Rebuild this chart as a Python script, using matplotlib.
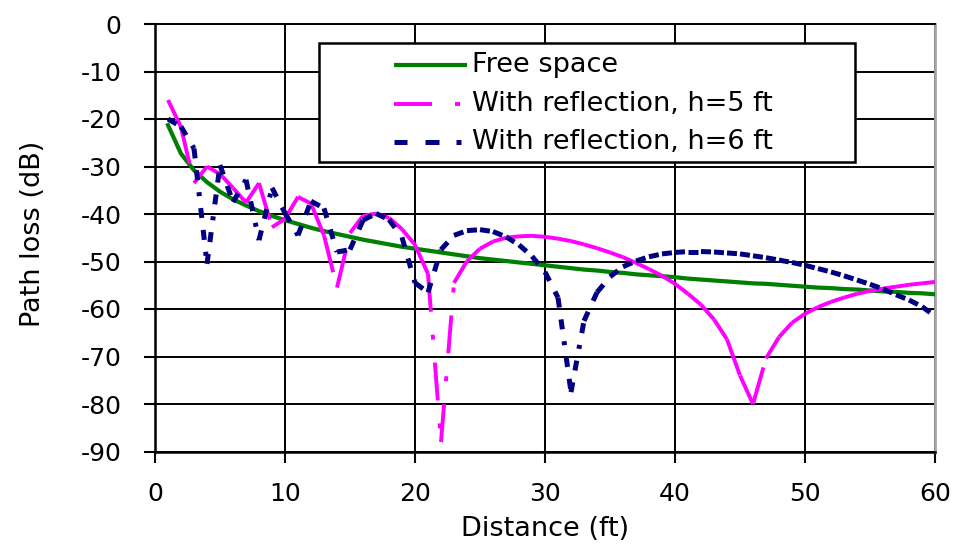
import numpy as np
import matplotlib
matplotlib.use("Agg")
import matplotlib.pyplot as plt
from matplotlib.collections import LineCollection
from matplotlib.lines import Line2D
from matplotlib.patches import Rectangle

plt.rcParams['font.family'] = ['DejaVu Sans']
plt.rcParams['lines.scale_dashes'] = False
plt.rcParams['axes.unicode_minus'] = False

# distance in ft, one sample per foot
distance = list(range(1, 61))

free_space = [-21.3, -27.3, -30.8, -33.3, -35.3, -36.9, -38.2, -39.4, -40.4, -41.3,
              -42.1, -42.9, -43.6, -44.2, -44.8, -45.4, -45.9, -46.4, -46.9, -47.3,
              -47.7, -48.1, -48.5, -48.9, -49.3, -49.6, -49.9, -50.2, -50.5, -50.8,
              -51.1, -51.4, -51.7, -51.9, -52.2, -52.4, -52.7, -52.9, -53.1, -53.3,
              -53.6, -53.8, -54.0, -54.2, -54.4, -54.6, -54.7, -54.9, -55.1, -55.3,
              -55.5, -55.6, -55.8, -55.9, -56.1, -56.3, -56.4, -56.6, -56.7, -56.9]

refl_h5 = [-16.0, -21.7, -33.5, -30.0, -31.6, -34.5, -37.6, -33.5, -42.8, -41.0,
           -36.4, -37.8, -44.5, -55.5, -44.0, -40.4, -39.9, -40.8, -43.2, -46.5,
           -52.6, -88.0, -54.5, -49.9, -47.3, -45.8, -45.0, -44.7, -44.6, -44.8,
           -45.2, -45.7, -46.4, -47.2, -48.1, -49.1, -50.3, -51.6, -53.0, -54.7,
           -56.8, -59.1, -62.2, -66.4, -74.0, -80.0, -70.4, -65.9, -62.9, -61.0,
           -59.6, -58.5, -57.6, -56.8, -56.2, -55.7, -55.3, -54.9, -54.6, -54.3]

refl_h6 = [-20.0, -21.6, -26.2, -50.5, -29.7, -37.5, -32.8, -45.5, -34.5, -39.8,
           -44.5, -37.3, -38.8, -48.0, -47.5, -41.3, -39.9, -41.2, -44.9, -54.5,
           -56.5, -47.5, -44.5, -43.5, -43.3, -43.7, -44.8, -46.5, -48.9, -52.2,
           -57.6, -77.5, -62.5, -56.5, -53.2, -51.1, -49.9, -49.0, -48.4, -48.1,
           -47.9, -47.9, -48.0, -48.2, -48.4, -48.8, -49.2, -49.7, -50.2, -50.8,
           -51.5, -52.2, -53.0, -53.9, -54.8, -55.8, -57.0, -58.1, -59.5, -61.5]

labels = ['Free space', 'With reflection, h=5 ft', 'With reflection, h=6 ft']
colors = ['#008000', '#ff00ff', '#000080']

PX = 72 / 100  # pixels -> points at dpi 100

# dash pattern restarts on every segment, like the spreadsheet renderer
plot_dashes = [None,
               [38 * PX, 23 * PX, 5 * PX, 23 * PX],
               [10 * PX, 12 * PX, 10 * PX, 12 * PX, 4 * PX, 12 * PX]]
legend_dashes = [None,
                 [38 * PX, 23 * PX, 5 * PX, 23 * PX],
                 [13 * PX, 18 * PX, 14 * PX, 17 * PX, 5 * PX, 17 * PX]]
widths = [4.2 * PX, 3.9 * PX, 5.0 * PX]

fig = plt.figure(figsize=(9.56, 5.44), dpi=100)
ax = fig.add_axes([155 / 956, 1 - 451.5 / 544, 780 / 956, 427.5 / 544])

for i, series in enumerate([free_space, refl_h5, refl_h6]):
    pts = np.column_stack([distance, series])
    if plot_dashes[i] is None:
        ax.plot(distance, series, color=colors[i], lw=widths[i], zorder=3 + i,
                solid_joinstyle='round')
        continue
    segs = np.stack([pts[:-1], pts[1:]], axis=1)
    lc = LineCollection(segs, colors=colors[i], linewidths=widths[i],
                        linestyles=[(0, plot_dashes[i])], zorder=3 + i)
    lc.set_capstyle('butt')
    ax.add_collection(lc)

ax.set_xlim(0, 60)
ax.set_ylim(-90, 0)
ax.set_xticks(range(0, 61, 10))
ax.set_yticks(range(-90, 1, 10))
ax.grid(True, color='black', lw=1.4, zorder=1)
ax.set_axisbelow(True)
ax.tick_params(direction='out', length=8, width=1.5, labelsize=18,
               colors='black')
ax.tick_params(axis='y', pad=16)
ax.tick_params(axis='x', pad=14)

for side in ['left', 'bottom']:
    ax.spines[side].set_linewidth(1.8)
    ax.spines[side].set_color('black')
ax.spines['top'].set_linewidth(1.4)
ax.spines['right'].set_color('#a6a6a6')
ax.spines['right'].set_linewidth(2.0)

ax.set_xlabel('Distance (ft)', fontsize=19.5, va='top')
ax.xaxis.set_label_coords(0.5, -0.152)
ax.set_ylabel('Path loss (dB)', fontsize=19.5)
ax.yaxis.set_label_coords(-0.14, 0.51)

# legend box drawn by hand: wide left padding as in the original
box = Rectangle((0.2103, 0.6772), 0.6872, 0.2784, transform=ax.transAxes,
                facecolor='white', edgecolor='black', lw=1.8, zorder=10)
ax.add_patch(box)
row_y = [0.9040, 0.8129, 0.7240]
for i in range(3):
    ln = Line2D([0.3064, 0.4000], [row_y[i], row_y[i]], transform=ax.transAxes,
                color=colors[i], lw=widths[i], zorder=11, clip_on=False,
                solid_capstyle='butt', dash_capstyle='butt')
    if legend_dashes[i] is not None:
        ln.set_dashes(legend_dashes[i])
    ax.add_line(ln)
    ax.text(0.4064, row_y[i], labels[i], transform=ax.transAxes, fontsize=19.5,
            va='center', ha='left', zorder=12)

fig.savefig('out.png', dpi=100)
